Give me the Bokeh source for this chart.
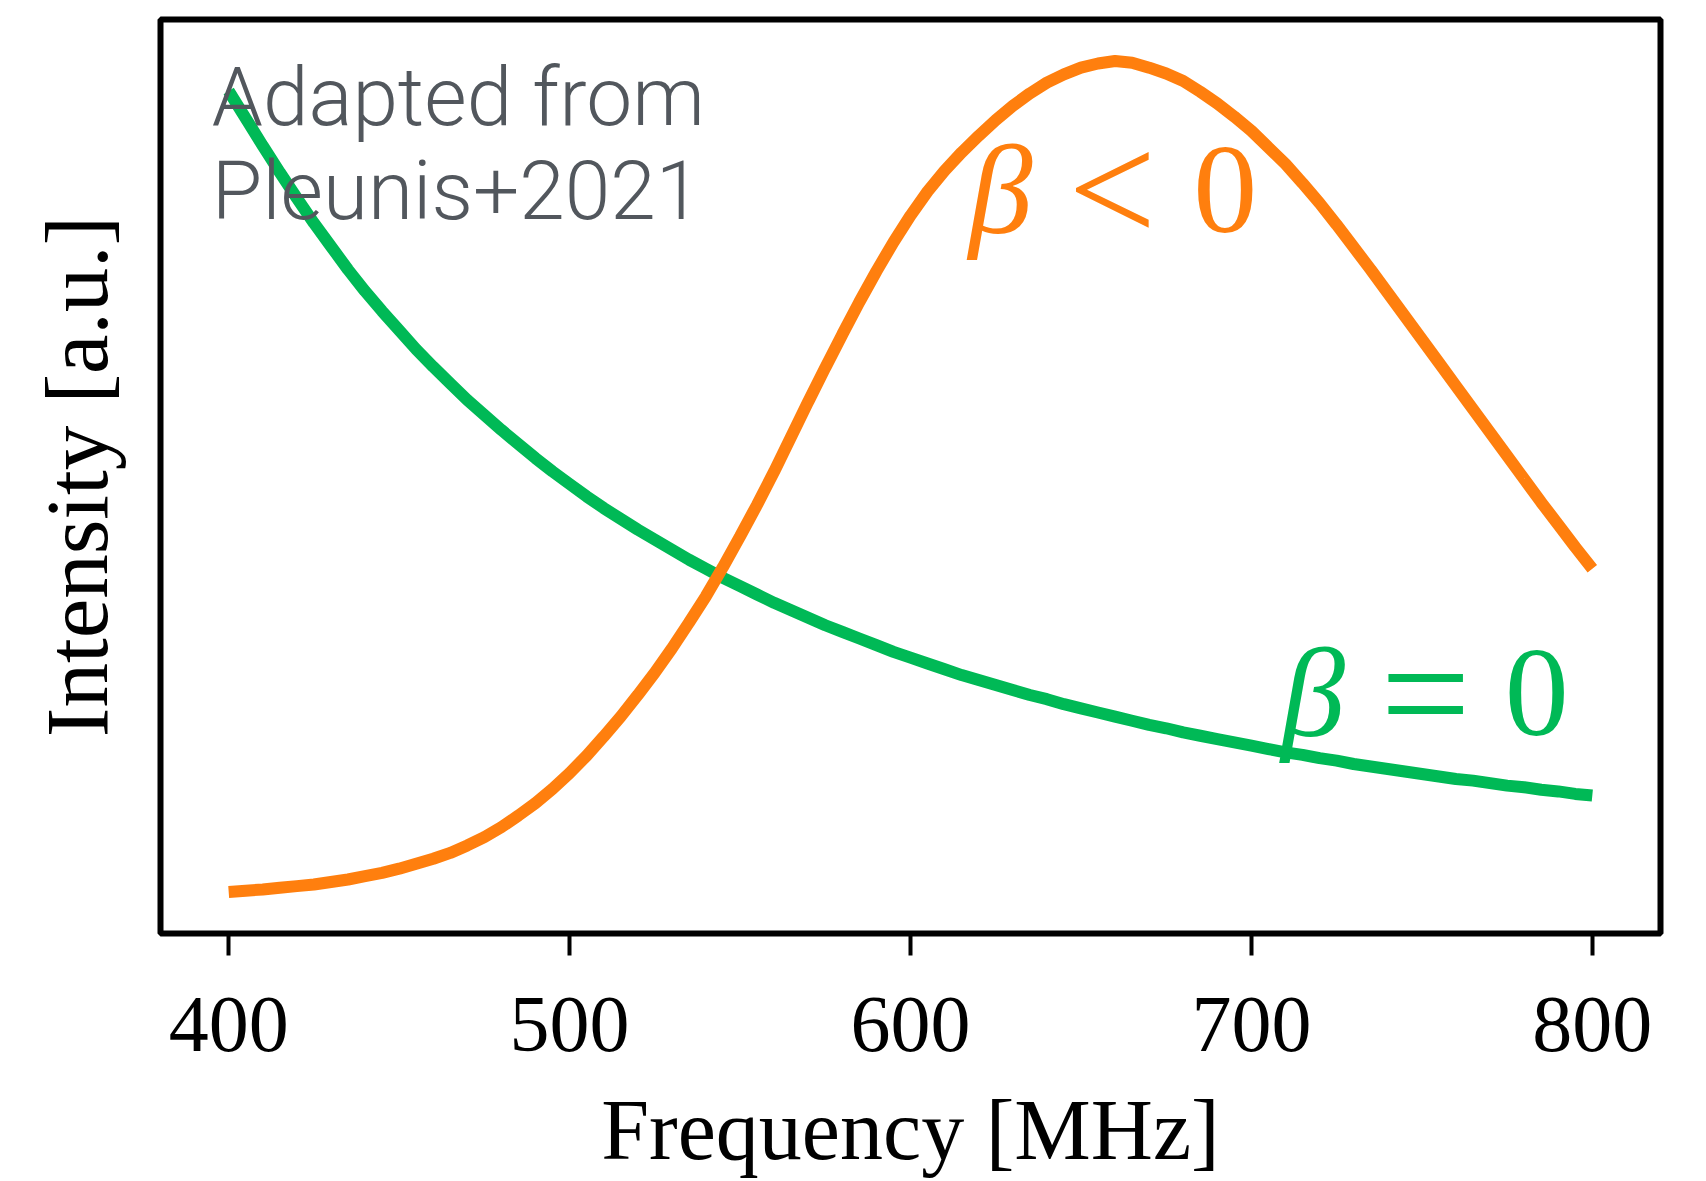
from bokeh.plotting import figure
from bokeh.models import Range1d, FixedTicker, Label
from bokeh.embed import file_html
from bokeh.resources import INLINE

# Frequency grid (MHz) and normalised intensity of the two spectral shapes
freq = [400, 405, 410, 415, 420, 425, 430, 435, 440, 445,
        450, 455, 460, 465, 470, 475, 480, 485, 490, 495,
        500, 505, 510, 515, 520, 525, 530, 535, 540, 545,
        550, 555, 560, 565, 570, 575, 580, 585, 590, 595,
        600, 605, 610, 615, 620, 625, 630, 635, 640, 645,
        650, 655, 660, 665, 670, 675, 680, 685, 690, 695,
        700, 705, 710, 715, 720, 725, 730, 735, 740, 745,
        750, 755, 760, 765, 770, 775, 780, 785, 790, 795, 800]

# beta = 0 : plain power-law decline
flat_beta = [0.964, 0.931, 0.898, 0.866, 0.835, 0.805, 0.777, 0.749, 0.723, 0.699,
             0.676, 0.653, 0.632, 0.612, 0.592, 0.574, 0.556, 0.539, 0.522, 0.506,
             0.491, 0.476, 0.462, 0.449, 0.436, 0.424, 0.412, 0.400, 0.389, 0.378,
             0.368, 0.358, 0.348, 0.339, 0.330, 0.321, 0.313, 0.305, 0.297, 0.289,
             0.282, 0.275, 0.268, 0.261, 0.255, 0.249, 0.243, 0.237, 0.232, 0.226,
             0.221, 0.216, 0.211, 0.206, 0.201, 0.197, 0.192, 0.188, 0.184, 0.180,
             0.176, 0.172, 0.168, 0.165, 0.161, 0.158, 0.154, 0.151, 0.148, 0.145,
             0.142, 0.139, 0.136, 0.134, 0.131, 0.128, 0.126, 0.123, 0.121, 0.118, 0.116]

# beta < 0 : running power law, peaked spectrum
neg_beta = [0.000, 0.0015, 0.003, 0.005, 0.007, 0.009, 0.012, 0.015, 0.019, 0.023,
            0.028, 0.034, 0.040, 0.047, 0.056, 0.066, 0.078, 0.092, 0.107, 0.124,
            0.143, 0.164, 0.187, 0.211, 0.237, 0.264, 0.293, 0.324, 0.356, 0.391,
            0.428, 0.466, 0.506, 0.548, 0.590, 0.631, 0.671, 0.710, 0.747, 0.782,
            0.814, 0.843, 0.868, 0.890, 0.910, 0.929, 0.946, 0.961, 0.974, 0.984,
            0.992, 0.997, 1.000, 0.998, 0.992, 0.985, 0.976, 0.963, 0.949, 0.933,
            0.916, 0.896, 0.876, 0.853, 0.829, 0.803, 0.776, 0.749, 0.721, 0.693,
            0.665, 0.637, 0.609, 0.581, 0.553, 0.525, 0.497, 0.469, 0.442, 0.415, 0.389]

x_ticks = [400, 500, 600, 700, 800]

GREEN = "#00b956"
ORANGE = "#ff7f0e"
GREY = "#52575d"
SERIF = "Liberation Serif"

p = figure(width=1706, height=1181, output_backend="svg", toolbar_location=None,
           x_range=Range1d(380, 820), y_range=Range1d(-0.05, 1.05),
           min_border_left=160, min_border_right=46,
           min_border_top=19, min_border_bottom=248)

p.grid.visible = False
p.background_fill_color = "white"
p.border_fill_color = "white"
p.outline_line_color = "black"
p.outline_line_width = 6

xa = p.xaxis[0]
xa.ticker = FixedTicker(ticks=x_ticks)
xa.axis_line_color = None
xa.major_tick_in = 0
xa.major_tick_out = 22
xa.major_tick_line_width = 4
xa.major_tick_line_color = "black"
xa.minor_tick_line_color = None
xa.major_label_text_font = SERIF
xa.major_label_text_font_size = "80px"
xa.major_label_text_color = "black"
xa.major_label_standoff = 42
xa.axis_label = "Frequency [MHz]"
xa.axis_label_text_font = SERIF
xa.axis_label_text_font_size = "86px"
xa.axis_label_text_font_style = "normal"
xa.axis_label_text_color = "black"
xa.axis_label_standoff = 28

ya = p.yaxis[0]
ya.ticker = FixedTicker(ticks=[])
ya.axis_line_color = None
ya.major_tick_line_color = None
ya.minor_tick_line_color = None
ya.major_label_text_font_size = "0px"
ya.axis_label = "Intensity [a.u.]"
ya.axis_label_text_font = SERIF
ya.axis_label_text_font_size = "89px"
ya.axis_label_text_font_style = "normal"
ya.axis_label_text_color = "black"
ya.axis_label_standoff = 35

p.line(freq, flat_beta, line_color=GREEN, line_width=12)
p.line(freq, neg_beta, line_color=ORANGE, line_width=12)

# Source note in the upper left corner
for txt, yy in (("Adapted from", 0.957), ("Pleunis+2021", 0.843)):
    p.add_layout(Label(x=395, y=yy, text=txt, text_font="Roboto Light",
                       text_font_size="82px", text_color=GREY,
                       text_align="left", text_baseline="alphabetic"))

# Curve annotations: italic beta followed by upright relation and zero
def equation(parts, baseline, color):
    for txt, xc, italic, size in parts:
        p.add_layout(Label(x=xc, y=baseline, text=txt, text_font=SERIF,
                           text_font_size=size,
                           text_font_style="italic" if italic else "normal",
                           text_color=color, text_align="center",
                           text_baseline="alphabetic"))

equation([("β", 626.4, True, "128px"), ("<", 659.2, False, "156px"),
          ("0", 692.3, False, "128px")], 0.845, ORANGE)
equation([("β", 718.1, True, "128px"), ("=", 751.1, False, "160px"),
          ("0", 783.7, False, "128px")], 0.240, GREEN)

open("out.html", "w").write(file_html(p, INLINE))
